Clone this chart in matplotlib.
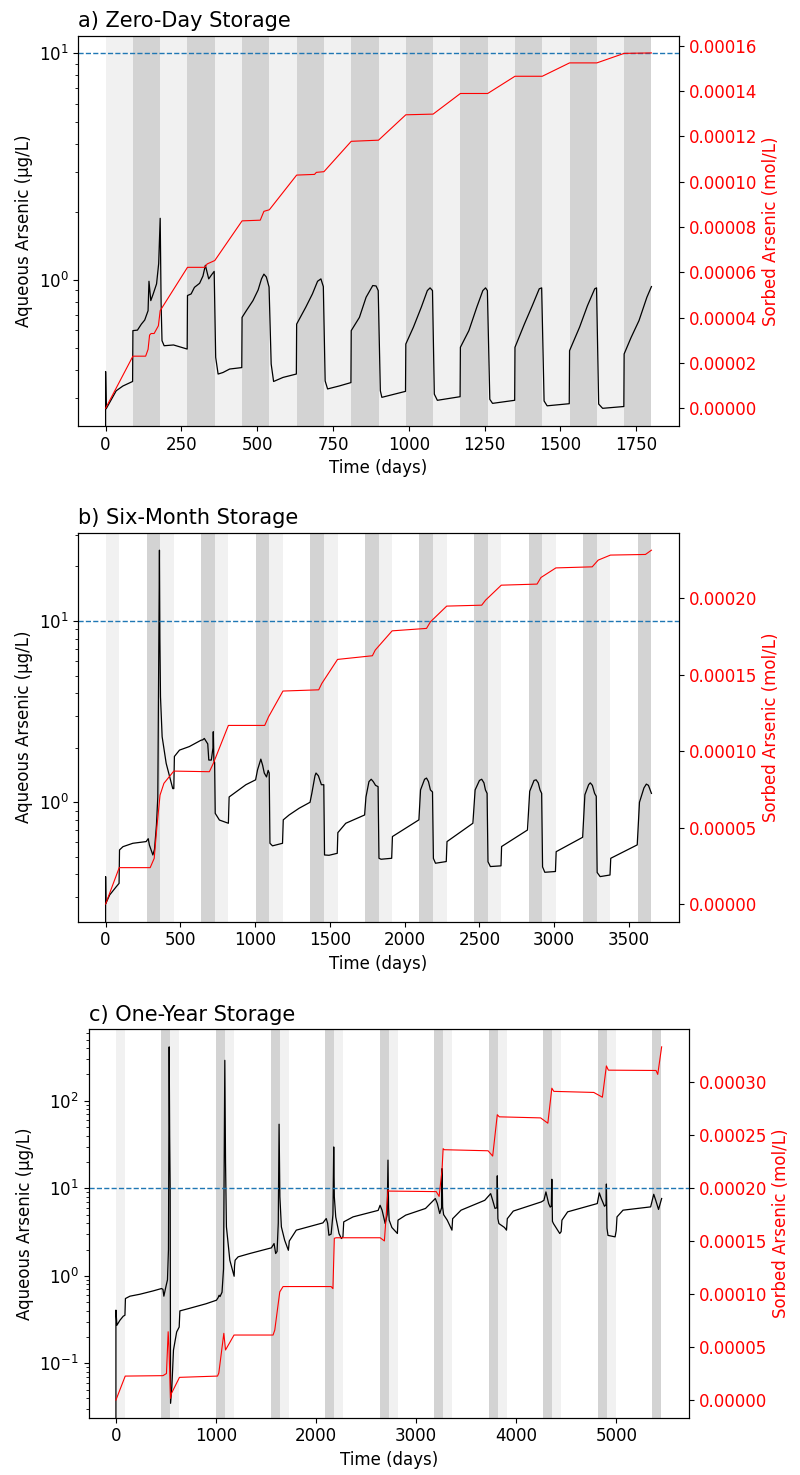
import matplotlib
matplotlib.use('Agg')
import matplotlib.pyplot as plt
from matplotlib.ticker import FormatStrFormatter, MultipleLocator

plt.rcParams['font.family'] = ['DejaVu Sans']
plt.rcParams['font.size'] = 12

# ---------------- data ----------------
titles = ['a) Zero-Day Storage', 'b) Six-Month Storage', 'c) One-Year Storage']
x_label = 'Time (days)'
left_label = 'Aqueous Arsenic (µg/L)'
right_label = 'Sorbed Arsenic (mol/L)'
mcl = 10.0  # dashed reference level (µg/L)

# shading: injection (light) and recovery (dark) periods, days
a_light = [(0, 90), (180, 270), (360, 450), (540, 630), (720, 810), (900, 990),
           (1080, 1170), (1260, 1350), (1440, 1530), (1620, 1710)]
a_dark = [(90, 180), (270, 360), (450, 540), (630, 720), (810, 900), (990, 1080),
          (1170, 1260), (1350, 1440), (1530, 1620), (1710, 1800)]
b_light = [(0, 91), (365, 456), (730, 821), (1095, 1186), (1460, 1551), (1825, 1916),
           (2190, 2281), (2555, 2646), (2920, 3011), (3285, 3376)]
b_dark = [(274, 365), (639, 730), (1004, 1095), (1369, 1460), (1734, 1825), (2099, 2190),
          (2464, 2555), (2829, 2920), (3194, 3285), (3559, 3650)]
c_light = [(0, 90), (545, 635), (1090, 1180), (1635, 1725), (2180, 2270), (2725, 2815),
           (3270, 3360), (3815, 3905), (4360, 4450), (4905, 4995)]
c_dark = [(455, 545), (1000, 1090), (1545, 1635), (2090, 2180), (2635, 2725), (3180, 3270),
          (3725, 3815), (4270, 4360), (4815, 4905), (5360, 5450)]

# aqueous arsenic (day, µg/L)
a_aqueous = [(0, 0.1), (0, 0.394), (2, 0.27), (35, 0.324), (57, 0.34), (89, 0.356), (90, 0.597),
             (105, 0.6), (118, 0.638), (129, 0.665), (140, 0.731), (143, 0.986), (149, 0.81),
             (157, 0.867), (168, 0.96), (175, 1.18), (180, 1.87), (183, 0.783), (186, 0.539),
             (193, 0.512), (224, 0.516), (269, 0.495), (270, 0.853), (282, 0.867), (293, 0.927),
             (310, 0.966), (321, 1.04), (329, 1.16), (340, 1.01), (350, 1.055), (358, 1.09),
             (363, 0.455), (371, 0.384), (387, 0.39), (409, 0.404), (449, 0.41), (450, 0.683),
             (464, 0.731), (486, 0.81), (503, 0.903), (514, 1.01), (522, 1.06), (530, 1.03),
             (539, 0.93), (546, 0.425), (554, 0.356), (585, 0.371), (629, 0.384), (630, 0.638),
             (660, 0.757), (682, 0.867), (699, 0.986), (710, 1.01), (718, 0.934), (724, 0.358),
             (732, 0.33), (770, 0.34), (809, 0.352), (810, 0.597), (837, 0.683), (859, 0.838),
             (881, 0.944), (892, 0.94), (899, 0.897), (906, 0.324), (911, 0.303), (989, 0.322),
             (990, 0.521), (1015, 0.618), (1041, 0.757), (1061, 0.897), (1070, 0.922),
             (1078, 0.897), (1084, 0.313), (1094, 0.294), (1169, 0.305), (1170, 0.504),
             (1198, 0.597), (1224, 0.757), (1244, 0.897), (1253, 0.922), (1259, 0.897),
             (1267, 0.297), (1276, 0.285), (1349, 0.294), (1350, 0.504), (1381, 0.638),
             (1407, 0.769), (1430, 0.913), (1438, 0.922), (1446, 0.292), (1456, 0.278),
             (1529, 0.284), (1530, 0.487), (1563, 0.618), (1589, 0.769), (1613, 0.913),
             (1619, 0.922), (1626, 0.283), (1639, 0.271), (1709, 0.276), (1710, 0.471),
             (1733, 0.557), (1759, 0.661), (1785, 0.838), (1800, 0.934)]

b_aqueous = [(0, 0.1), (0, 0.389), (2, 0.277), (27, 0.308), (71, 0.342), (90, 0.357), (93, 0.546),
             (116, 0.569), (182, 0.594), (271, 0.607), (285, 0.63), (293, 0.58), (316, 0.512),
             (327, 0.55), (340, 0.75), (349, 1.07), (356, 8.0), (360, 24.6), (363, 8.0),
             (367, 3.82), (378, 2.3), (405, 1.64), (449, 1.19), (456, 1.19), (460, 1.79),
             (494, 1.94), (560, 2.03), (638, 2.2), (649, 2.21), (660, 2.25), (683, 2.1),
             (690, 1.71), (707, 1.71), (718, 2.0), (720, 2.45), (724, 1.7), (729, 1.66),
             (733, 0.869), (761, 0.798), (821, 0.766), (826, 1.07), (872, 1.14), (938, 1.25),
             (1003, 1.33), (1016, 1.51), (1038, 1.73), (1050, 1.6), (1061, 1.45), (1076, 1.38),
             (1087, 1.5), (1094, 1.45), (1099, 0.594), (1116, 0.575), (1183, 0.594), (1188, 0.8),
             (1227, 0.851), (1294, 0.927), (1367, 1.0), (1379, 1.12), (1400, 1.40), (1407, 1.45),
             (1423, 1.40), (1443, 1.25), (1459, 1.25), (1464, 0.512), (1494, 0.51), (1549, 0.523),
             (1553, 0.68), (1606, 0.766), (1732, 0.851), (1741, 1.07), (1761, 1.3), (1776, 1.34),
             (1790, 1.30), (1805, 1.24), (1822, 1.22), (1828, 0.491), (1842, 0.485),
             (1913, 0.491), (1918, 0.647), (2095, 0.8), (2106, 1.17), (2133, 1.34), (2146, 1.36),
             (2159, 1.30), (2172, 1.17), (2186, 1.14), (2192, 0.49), (2206, 0.461), (2278, 0.471),
             (2283, 0.607), (2456, 0.766), (2471, 1.17), (2500, 1.32), (2515, 1.34), (2530, 1.28),
             (2540, 1.17), (2551, 1.12), (2557, 0.47), (2573, 0.442), (2644, 0.446), (2648, 0.57),
             (2821, 0.703), (2836, 1.15), (2865, 1.32), (2879, 1.33), (2893, 1.28), (2905, 1.17),
             (2916, 1.12), (2922, 0.44), (2937, 0.411), (3008, 0.415), (3013, 0.534),
             (3190, 0.641), (3205, 1.1), (3230, 1.25), (3241, 1.28), (3255, 1.24), (3270, 1.12),
             (3281, 1.08), (3287, 0.41), (3307, 0.389), (3373, 0.397), (3378, 0.491),
             (3555, 0.582), (3570, 1.0), (3600, 1.2), (3616, 1.26), (3630, 1.24), (3650, 1.12)]

c_aqueous = [(0, 0.005), (0, 0.406), (10, 0.273), (40, 0.311), (73, 0.346), (90, 0.355),
             (95, 0.551), (140, 0.586), (240, 0.617), (373, 0.674), (456, 0.717), (470, 0.70),
             (479, 0.586), (499, 0.75), (515, 0.9), (525, 2.0), (532, 413), (537, 40), (542, 10.4),
             (546, 0.035), (559, 0.054), (575, 0.142), (607, 0.229), (632, 0.26), (639, 0.398),
             (726, 0.423), (900, 0.48), (1004, 0.527), (1020, 0.56), (1031, 0.601), (1040, 0.58),
             (1060, 0.65), (1075, 1.2), (1088, 290), (1095, 20), (1104, 3.63), (1138, 1.51),
             (1181, 0.99), (1185, 1.3), (1191, 1.51), (1221, 1.65), (1337, 1.8), (1553, 2.09),
             (1580, 2.34), (1596, 1.8), (1610, 1.9), (1622, 4.0), (1630, 54), (1638, 8.0),
             (1653, 3.63), (1686, 2.55), (1723, 1.96), (1732, 2.5), (1802, 3.33), (2068, 4.03),
             (2101, 4.52), (2115, 4.0), (2128, 2.91), (2150, 3.0), (2168, 5.0), (2176, 29.7),
             (2182, 8.0), (2196, 4.72), (2229, 3.04), (2253, 2.67), (2268, 2.8), (2276, 4.14),
             (2369, 4.72), (2620, 5.6), (2639, 6.4), (2659, 5.63), (2690, 3.96), (2710, 5.0),
             (2718, 21), (2724, 6.0), (2730, 4.33), (2757, 3.57), (2812, 3.05), (2818, 4.33),
             (2895, 4.94), (3093, 5.89), (3191, 7.65), (3211, 6.7), (3235, 5.16), (3254, 6.0),
             (3258, 16.8), (3264, 6.1), (3274, 5.0), (3310, 4.33), (3357, 3.33), (3364, 4.5),
             (3448, 5.63), (3685, 7.3), (3744, 8.7), (3764, 7.3), (3787, 5.9), (3806, 6.0),
             (3810, 13.9), (3816, 4.5), (3826, 3.96), (3882, 3.57), (3902, 3.33), (3910, 4.5),
             (3970, 5.5), (4250, 7.0), (4276, 7.3), (4296, 9.1), (4323, 6.7), (4339, 6.1),
             (4350, 6.3), (4355, 12.7), (4361, 4.2), (4371, 3.96), (4434, 3.05), (4448, 3.2),
             (4456, 4.33), (4513, 5.39), (4809, 6.7), (4829, 8.87), (4849, 7.65), (4881, 6.24),
             (4896, 6.5), (4900, 11.2), (4906, 3.5), (4916, 2.9), (4987, 2.79), (4998, 3.3),
             (5006, 4.72), (5066, 5.63), (5342, 6.14), (5373, 8.55), (5393, 7.3), (5421, 5.74),
             (5452, 7.65)]

# sorbed arsenic (day, 1e-5 mol/L)
a_sorbed = [(0, 0.0), (90, 2.30), (132, 2.30), (140, 2.6), (145, 3.23), (150, 3.30), (160, 3.30),
            (174, 3.64), (180, 4.31), (270, 6.22), (327, 6.22), (335, 6.37), (360, 6.52),
            (450, 8.27), (510, 8.30), (522, 8.69), (540, 8.76), (630, 10.29), (689, 10.32),
            (695, 10.41), (720, 10.44), (810, 11.78), (900, 11.83), (990, 12.95), (1080, 12.98),
            (1170, 13.89), (1260, 13.89), (1350, 14.65), (1440, 14.65), (1530, 15.24),
            (1620, 15.24), (1710, 15.66), (1800, 15.68)]

b_sorbed = [(0, 0.0), (91, 2.38), (298, 2.38), (325, 2.99), (343, 5.06), (364, 7.13), (390, 7.9),
            (456, 8.70), (694, 8.66), (720, 9.2), (821, 11.69), (1064, 11.69), (1090, 12.26),
            (1186, 13.94), (1425, 14.02), (1446, 14.44), (1551, 16.01), (1784, 16.25),
            (1803, 16.62), (1916, 17.88), (2146, 18.04), (2172, 18.47), (2281, 19.5),
            (2515, 19.56), (2541, 19.89), (2646, 20.87), (2885, 20.94), (2911, 21.37),
            (3011, 22.0), (3254, 22.07), (3294, 22.51), (3376, 22.84), (3610, 22.88),
            (3650, 23.16)]

c_sorbed = [(0, 0.0), (93, 2.26), (470, 2.3), (505, 2.5), (522, 6.44), (530, 5.0), (545, 0.16),
            (555, 0.63), (635, 2.14), (1015, 2.26), (1028, 2.55), (1078, 6.29), (1095, 4.72),
            (1180, 6.13), (1570, 6.13), (1587, 6.6), (1637, 10.2), (1670, 10.7), (2150, 10.7),
            (2168, 10.5), (2182, 15.25), (2200, 15.3), (2640, 15.3), (2682, 15.0), (2718, 19.8),
            (2730, 19.7), (3200, 19.65), (3229, 19.2), (3258, 21.7), (3269, 23.7), (3280, 23.6),
            (3718, 23.5), (3764, 23.0), (3810, 26.9), (3830, 26.7), (4243, 26.6), (4315, 26.1),
            (4355, 29.4), (4375, 29.1), (4774, 29.0), (4860, 28.55), (4900, 31.5), (4920, 31.1),
            (5396, 31.07), (5413, 30.7), (5452, 33.3)]

# ---------------- styling / layout ----------------
LIGHT = '#f1f1f1'
DARK = '#d3d3d3'

panels = [
    dict(rect=[0.0979, 0.7112, 0.7505, 0.2646], light=a_light, dark=a_dark, aq=a_aqueous,
         sorb=a_sorbed, xlim=(-90, 1890), yl=(10 ** -0.645, 10 ** 1.078),
         yr=(-0.78e-5, 16.44e-5), xstep=250, rstep=2e-5),
    dict(rect=[0.0979, 0.3751, 0.7505, 0.2637], light=b_light, dark=b_dark, aq=b_aqueous,
         sorb=b_sorbed, xlim=(-182.5, 3832.5), yl=(10 ** -0.659, 10 ** 1.487),
         yr=(-1.16e-5, 24.3e-5), xstep=500, rstep=5e-5),
    dict(rect=[0.1108, 0.0388, 0.7501, 0.2635], light=c_light, dark=c_dark, aq=c_aqueous,
         sorb=c_sorbed, xlim=(-272.5, 5722.5), yl=(10 ** -1.621, 10 ** 2.819),
         yr=(-1.67e-5, 34.97e-5), xstep=1000, rstep=5e-5),
]

fig = plt.figure(figsize=(8, 14.75), dpi=100)

for title, p in zip(titles, panels):
    ax = fig.add_axes(p['rect'])
    for s, e in p['light']:
        ax.axvspan(s, e, color=LIGHT, lw=0, zorder=0)
    for s, e in p['dark']:
        ax.axvspan(s, e, color=DARK, lw=0, zorder=0)
    xs, ys = zip(*p['aq'])
    ax.plot(xs, ys, color='black', lw=0.9, zorder=2)
    ax.axhline(mcl, color='#1f77b4', ls='--', lw=1.0, zorder=3)
    ax.set_yscale('log')
    ax.set_xlim(*p['xlim'])
    ax.set_ylim(*p['yl'])
    ax.xaxis.set_major_locator(MultipleLocator(p['xstep']))
    ax.set_xlabel(x_label)
    ax.set_ylabel(left_label)
    ax.set_title(title, loc='left', fontsize=15)

    ax2 = ax.twinx()
    xr, yr = zip(*p['sorb'])
    ax2.plot(xr, [v * 1e-5 for v in yr], color='red', lw=0.8)
    ax2.set_ylim(*p['yr'])
    ax2.yaxis.set_major_locator(MultipleLocator(p['rstep']))
    ax2.yaxis.set_major_formatter(FormatStrFormatter('%.5f'))
    ax2.tick_params(axis='y', labelcolor='red')
    ax2.set_ylabel(right_label, color='red')
    ax2.set_xlim(*p['xlim'])

fig.savefig('out.png', dpi=100)
